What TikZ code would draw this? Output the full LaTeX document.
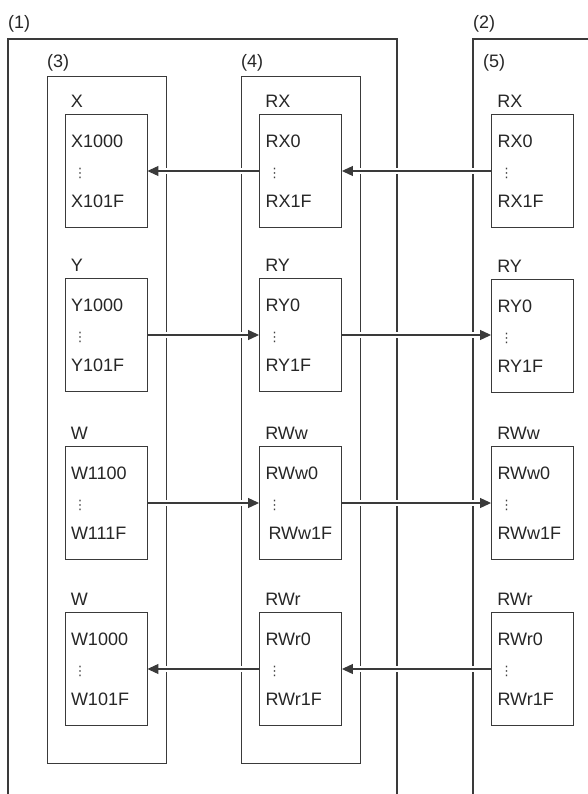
\documentclass[tikz,border=0pt]{standalone}
\usepackage{fontspec}
\setmainfont{Liberation Sans}
\newfontfamily\symf{DejaVu Sans}
\usetikzlibrary{arrows.meta,calc}
\definecolor{ln}{HTML}{3A3A3A}
\newcommand\mydots{{\symf\fontsize{13}{12}\selectfont\color{black!75}\hspace*{2.5pt}⋮}}
\tikzset{
  frame/.style={draw=ln,line width=1.1pt},
  reg/.style={draw=ln,line width=0.9pt,minimum width=82pt,minimum height=113pt,
    inner xsep=6pt,inner ysep=0pt,text width=70pt,align=left,text=black!85,
    font=\fontsize{18}{30}\selectfont},
  txt/.style={anchor=base west,inner sep=0pt,text=black!85,font=\fontsize{18}{20}\selectfont},
  arr/.style={draw=ln,line width=1.1pt,-{Triangle[length=11pt,width=10pt]},
    preaction={draw=white,line width=6pt,arrows=-,shorten <=3pt,shorten >=3pt}}
}
\newcommand\regbox[7][]{%
  \node[reg] (#2) at (#3,#4) {#6\\\mydots\\#1#7};
  \node[txt] (#2t) at ($(#2.north west)+(6,-7)$) {#5};
}
\begin{document}
\begin{tikzpicture}[x=1pt,y=-1pt]
\useasboundingbox (0,0) rectangle (587,794);
% outer containers
\draw[frame] (8,794) -- (8,39) -- (397,39) -- (397,794);
\draw[frame] (473,794) -- (473,39) -- (590,39);
\node[txt] (l1) at (8,29) {(1)};
\node[txt] (l2) at (473,29) {(2)};
% inner containers
\draw[frame,line width=1pt] (47,77) rectangle (166,763);
\draw[frame,line width=1pt] (241,77) rectangle (360,763);
\node[txt] (l3) at (47,68) {(3)};
\node[txt] (l4) at (241,68) {(4)};
\node[txt] (l5) at (483,68) {(5)};
% register boxes
\regbox{a1}{106}{171}{X}{X1000}{X101F}
\regbox{a2}{106}{335}{Y}{Y1000}{Y101F}
\regbox{a3}{106}{503}{W}{W1100}{W111F}
\regbox{a4}{106}{669}{W}{W1000}{W101F}
\regbox{b1}{300.5}{171}{RX}{RX0}{RX1F}
\regbox{b2}{300.5}{335}{RY}{RY0}{RY1F}
\regbox[\hspace*{3pt}]{b3}{300.5}{503}{RWw}{RWw0}{RWw1F}
\regbox{b4}{300.5}{669}{RWr}{RWr0}{RWr1F}
\regbox{c1}{532.5}{171}{RX}{RX0}{RX1F}
\regbox{c2}{532.5}{336}{RY}{RY0}{RY1F}
\regbox{c3}{532.5}{503}{RWw}{RWw0}{RWw1F}
\regbox{c4}{532.5}{669}{RWr}{RWr0}{RWr1F}
% connectors
\draw[arr] (c1.west) -- (b1.east);
\draw[arr] (b1.west) -- (a1.east);
\draw[arr] (a2.east) -- (b2.west);
\draw[arr] (b2.east) -- (b2.east -| c2.west);
\draw[arr] (a3.east) -- (b3.west);
\draw[arr] (b3.east) -- (c3.west);
\draw[arr] (c4.west) -- (b4.east);
\draw[arr] (b4.west) -- (a4.east);
\end{tikzpicture}
\end{document}
